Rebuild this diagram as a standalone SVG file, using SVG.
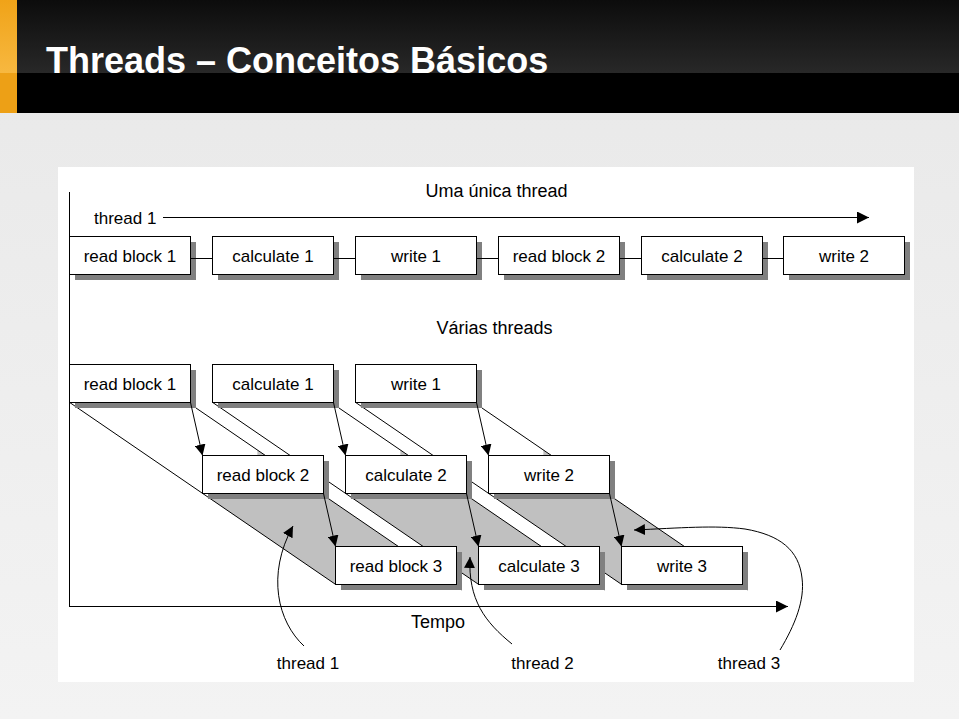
<svg xmlns="http://www.w3.org/2000/svg" width="959" height="719" viewBox="0 0 959 719">
<defs>
<linearGradient id="bg" x1="0" y1="0" x2="0" y2="1"><stop offset="0" stop-color="#e8e8e8"/><stop offset="1" stop-color="#f3f3f3"/></linearGradient>
<linearGradient id="hdr" x1="0" y1="0" x2="0" y2="1"><stop offset="0" stop-color="#0c0c0c"/><stop offset="1" stop-color="#282828"/></linearGradient>
<linearGradient id="org" x1="0" y1="0" x2="0" y2="1"><stop offset="0" stop-color="#f0a318"/><stop offset="1" stop-color="#f7b840"/></linearGradient>
<marker id="ah" viewBox="0 0 12 12" refX="12" refY="6" markerWidth="12" markerHeight="12" markerUnits="userSpaceOnUse" orient="auto"><path d="M0,0 L12,6 L0,12 z" fill="#000"/></marker>
<marker id="as" viewBox="0 0 11 11" refX="11" refY="5.5" markerWidth="11" markerHeight="11" markerUnits="userSpaceOnUse" orient="auto"><path d="M0,0 L11,5.5 L0,11 z" fill="#000"/></marker>
</defs>
<style>
.box{fill:#fff;stroke:#000;stroke-width:1}
.sh{fill:#808080}
.lbl{font-family:"Liberation Sans",Arial,sans-serif;font-size:17px;fill:#000;text-anchor:middle}
.ttl{font-family:"Liberation Sans",Arial,sans-serif;font-size:18px;fill:#000;text-anchor:middle}
.ln{stroke:#000;stroke-width:1;fill:none}
.lane{fill:#c0c0c0}
</style>
<rect x="0" y="0" width="959" height="719" fill="url(#bg)"/>
<g id="header">
<rect x="0" y="0" width="959" height="113" fill="#000"/>
<rect x="0" y="0" width="959" height="73" fill="url(#hdr)"/>
<rect x="0" y="0" width="17" height="113" fill="#eda016"/>
<rect x="0" y="0" width="17" height="73" fill="url(#org)"/>
<text x="46" y="73" font-family="'Liberation Sans',Arial,sans-serif" font-size="36" font-weight="bold" fill="#fff">Threads – Conceitos Básicos</text>
</g>
<rect x="58" y="167" width="856" height="515" fill="#fff"/>
<g id="lanes">
<polygon class="lane" points="210.8,499 329,499 453.2,584 335,584"/>
<polygon class="lane" points="353.8,499 472,499 596.2,584 478,584"/>
<polygon class="lane" points="496.8,499 615,499 739.2,584 621,584"/>
<polygon class="lane" points="257.4,450 264.7,455 257.4,455"/>
<polygon class="lane" points="400.4,450 407.7,455 400.4,455"/>
<polygon class="lane" points="543.4,450 550.7,455 543.4,455"/>
<path class="ln" d="M69,402 L335,584 M212,402 L478,584 M355,402 L621,584 M196,408 L462,590 M339,408 L605,590 M482,408 L748,590"/>
</g>
<g id="axes">
<path class="ln" d="M69.5,192 L69.5,606.5"/>
<path class="ln" d="M69,606.5 L788,606.5" marker-end="url(#ah)"/>
<path class="ln" d="M163,217.5 L869,217.5" marker-end="url(#ah)"/>
</g>
<text class="ttl" x="496.5" y="197">Uma única thread</text>
<text class="lbl" x="94" y="224" style="text-anchor:start">thread 1</text>
<text class="ttl" x="494.5" y="334">Várias threads</text>
<text class="ttl" x="438" y="628">Tempo</text>
<g id="s-rb1"><rect class="sh" x="75" y="242" width="121" height="38"/><rect class="box" x="69.5" y="236.5" width="121" height="38"/><text class="lbl" x="130" y="262">read block 1</text></g>
<g id="s-c1"><rect class="sh" x="218" y="242" width="121" height="38"/><rect class="box" x="212.5" y="236.5" width="121" height="38"/><text class="lbl" x="273" y="262">calculate 1</text></g>
<g id="s-w1"><rect class="sh" x="361" y="242" width="121" height="38"/><rect class="box" x="355.5" y="236.5" width="121" height="38"/><text class="lbl" x="416" y="262">write 1</text></g>
<g id="s-rb2"><rect class="sh" x="504" y="242" width="121" height="38"/><rect class="box" x="498.5" y="236.5" width="121" height="38"/><text class="lbl" x="559" y="262">read block 2</text></g>
<g id="s-c2"><rect class="sh" x="647" y="242" width="121" height="38"/><rect class="box" x="641.5" y="236.5" width="121" height="38"/><text class="lbl" x="702" y="262">calculate 2</text></g>
<g id="s-w2"><rect class="sh" x="789" y="242" width="121" height="38"/><rect class="box" x="783.5" y="236.5" width="121" height="38"/><text class="lbl" x="844" y="262">write 2</text></g>
<g id="m-rb1"><rect class="sh" x="75" y="370" width="121" height="38"/><rect class="box" x="69.5" y="364.5" width="121" height="38"/><text class="lbl" x="130" y="390">read block 1</text></g>
<g id="m-c1"><rect class="sh" x="218" y="370" width="121" height="38"/><rect class="box" x="212.5" y="364.5" width="121" height="38"/><text class="lbl" x="273" y="390">calculate 1</text></g>
<g id="m-w1"><rect class="sh" x="361" y="370" width="121" height="38"/><rect class="box" x="355.5" y="364.5" width="121" height="38"/><text class="lbl" x="416" y="390">write 1</text></g>
<g id="m-rb2"><rect class="sh" x="208" y="461" width="121" height="38"/><rect class="box" x="202.5" y="455.5" width="121" height="38"/><text class="lbl" x="263" y="481">read block 2</text></g>
<g id="m-c2"><rect class="sh" x="351" y="461" width="121" height="38"/><rect class="box" x="345.5" y="455.5" width="121" height="38"/><text class="lbl" x="406" y="481">calculate 2</text></g>
<g id="m-w2"><rect class="sh" x="494" y="461" width="121" height="38"/><rect class="box" x="488.5" y="455.5" width="121" height="38"/><text class="lbl" x="549" y="481">write 2</text></g>
<g id="m-rb3"><rect class="sh" x="341" y="552" width="121" height="38"/><rect class="box" x="335.5" y="546.5" width="121" height="38"/><text class="lbl" x="396" y="572">read block 3</text></g>
<g id="m-c3"><rect class="sh" x="484" y="552" width="121" height="38"/><rect class="box" x="478.5" y="546.5" width="121" height="38"/><text class="lbl" x="539" y="572">calculate 3</text></g>
<g id="m-w3"><rect class="sh" x="627" y="552" width="121" height="38"/><rect class="box" x="621.5" y="546.5" width="121" height="38"/><text class="lbl" x="682" y="572">write 3</text></g>
<g id="connectors">
<path class="ln" d="M191,258.5 L212,258.5 M334,258.5 L355,258.5 M477,258.5 L498,258.5 M620,258.5 L641,258.5 M763,258.5 L783,258.5"/>
<path class="ln" d="M190.5,402.5 L202.5,455.5" marker-end="url(#as)"/>
<path class="ln" d="M333.5,402.5 L345.5,455.5" marker-end="url(#as)"/>
<path class="ln" d="M476.5,402.5 L488.5,455.5" marker-end="url(#as)"/>
<path class="ln" d="M323.5,493.5 L335.5,546.5" marker-end="url(#as)"/>
<path class="ln" d="M466.5,493.5 L478.5,546.5" marker-end="url(#as)"/>
<path class="ln" d="M609.5,493.5 L621.5,546.5" marker-end="url(#as)"/>
<path class="ln" d="M304,646 C278,622 266,575 293,526" marker-end="url(#as)"/>
<path class="ln" d="M512,644 C485,622 468,600 470,557" marker-end="url(#as)"/>
<path class="ln" d="M780,650 C795,625 805,600 802,578 C799,550 780,535 745,529 C715,525 680,528 634,530" marker-end="url(#as)"/>
</g>
<text class="lbl" x="308" y="669">thread 1</text>
<text class="lbl" x="542.5" y="669">thread 2</text>
<text class="lbl" x="749" y="669">thread 3</text>
</svg>
